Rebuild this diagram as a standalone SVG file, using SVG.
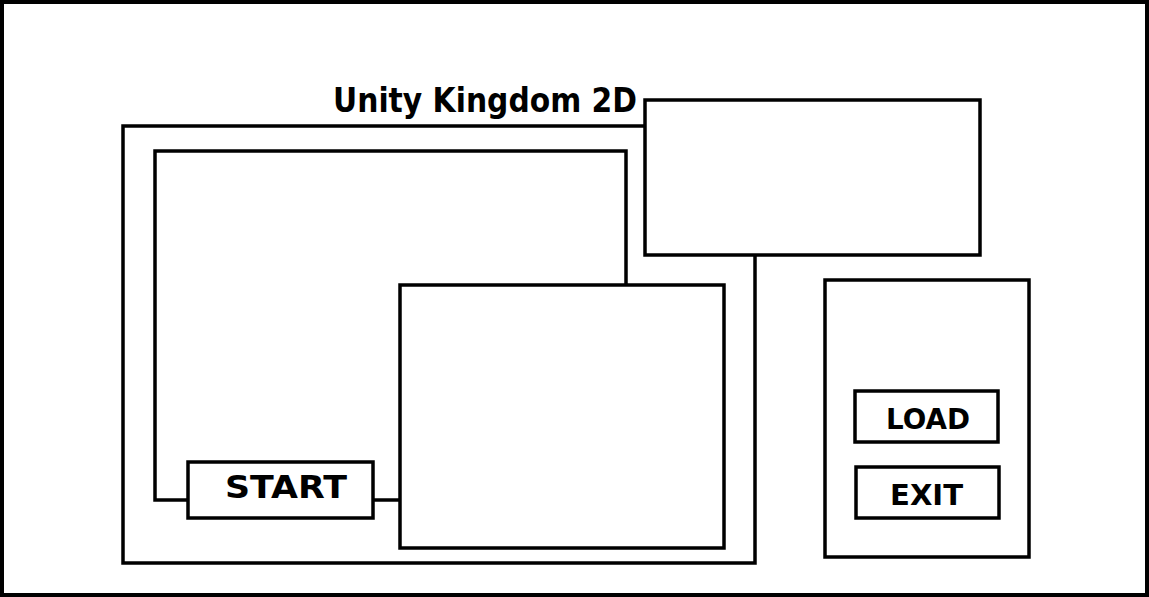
<svg xmlns="http://www.w3.org/2000/svg" width="1149" height="597" viewBox="0 0 1149 597">
<style>
.box{fill:#fff;stroke:#000;stroke-width:3.5}
.ln{fill:none;stroke:#000;stroke-width:3.5}
.t{font-family:"DejaVu Sans",Verdana,sans-serif;font-weight:bold;fill:#000}
</style>
<rect width="1149" height="597" fill="#fff"/>
<rect id="frame" x="2" y="2" width="1145" height="593" fill="none" stroke="#000" stroke-width="4"/>
<g id="mainPanel"><rect class="box" x="123" y="126" width="632" height="437"/></g>
<g id="titleBox"><rect class="box" x="645" y="100" width="335" height="155"/></g>
<g id="title"><text class="t" x="333" y="112" font-size="33" textLength="304" lengthAdjust="spacingAndGlyphs">Unity Kingdom 2D</text></g>
<g id="connectors">
<path class="ln" d="M190,500 H155 V151 H626 V287"/>
<path class="ln" d="M370,500 H402"/>
</g>
<g id="viewBox"><rect class="box" x="400" y="285" width="324" height="263"/></g>
<g id="start"><rect class="box" x="188" y="462" width="185" height="56"/><text class="t" x="225" y="498" font-size="32" textLength="122" lengthAdjust="spacingAndGlyphs">START</text></g>
<g id="sidePanel"><rect class="box" x="825" y="280" width="204" height="277"/></g>
<g id="load"><rect class="box" x="855" y="391" width="143" height="51"/><text class="t" x="886" y="429" font-size="29" textLength="84" lengthAdjust="spacingAndGlyphs">LOAD</text></g>
<g id="exit"><rect class="box" x="856" y="467" width="143" height="51"/><text class="t" x="890" y="505" font-size="29" textLength="73" lengthAdjust="spacingAndGlyphs">EXIT</text></g>
</svg>
